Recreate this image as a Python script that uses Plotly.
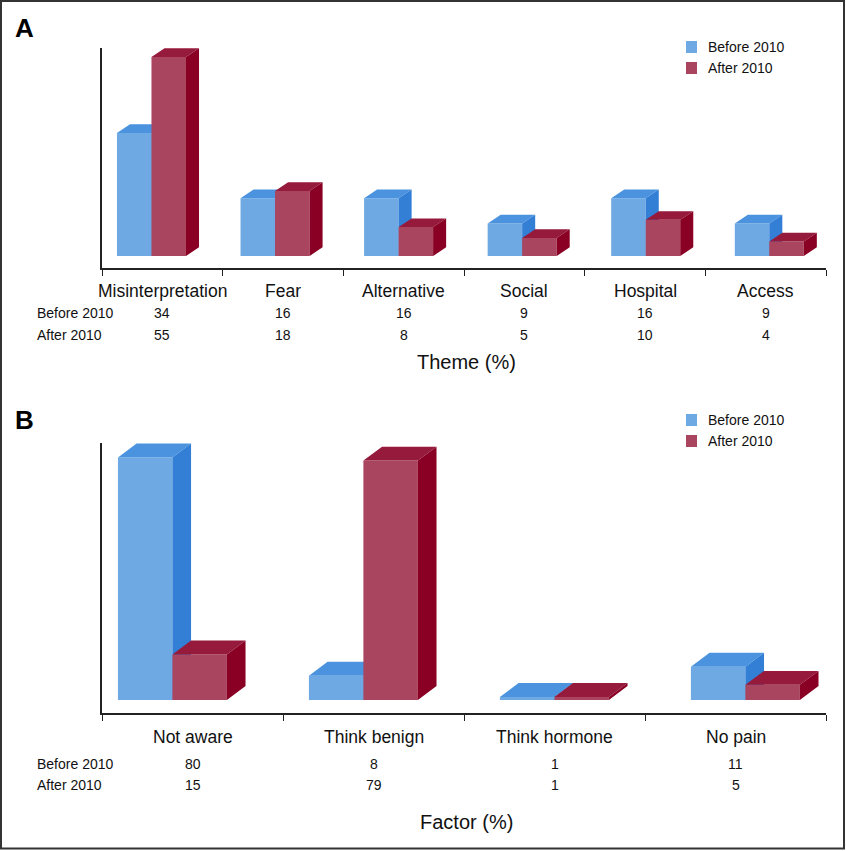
import plotly.graph_objects as go

# ---------------- data ----------------
series_names = ["Before 2010", "After 2010"]

themes = ["Misinterpretation", "Fear", "Alternative", "Social", "Hospital", "Access"]
theme_before = [34, 16, 16, 9, 16, 9]
theme_after = [55, 18, 8, 5, 10, 4]

factors = ["Not aware", "Think benign", "Think hormone", "No pain"]
factor_before = [80, 8, 1, 11]
factor_after = [15, 79, 1, 5]

# ---------------- style ----------------
W, H = 846, 851
FONT = "Liberation Sans, Arial, Helvetica, sans-serif"
BLUE = dict(front="#6FA9E3", top="#4B93DE", side="#337FD5")
RED = dict(front="#A9455F", top="#951A3C", side="#890024")
AXC = "#222222"


def py2paper(py):
    return 1 - py / H


fig = go.Figure()


def add_bars(xa, ya, values, offset, drift, width, dx, dy, col, name):
    faces = {"front": ([], []), "top": ([], []), "side": ([], [])}
    for i, v in enumerate(values):
        x0 = i + offset + drift * i
        x1 = x0 + width
        fx, fy = faces["front"]
        fx += [x0, x1, x1, x0, x0, None]
        fy += [0, 0, v, v, 0, None]
        tx, ty = faces["top"]
        tx += [x0, x1, x1 + dx, x0 + dx, x0, None]
        ty += [v, v, v + dy, v + dy, v, None]
        sx, sy = faces["side"]
        sx += [x1, x1 + dx, x1 + dx, x1, x1, None]
        sy += [0, dy, v + dy, v, 0, None]
    for face in ["front", "top", "side"]:
        xs, ys = faces[face]
        fig.add_trace(go.Scatter(
            x=xs, y=ys, xaxis=xa, yaxis=ya, mode="lines", fill="toself",
            fillcolor=col[face], line=dict(width=0, color=col[face]),
            hoverinfo="skip", showlegend=False, name=name))


def ann(x, py, text, size, xref="paper", xanchor="center", color="#111"):
    fig.add_annotation(x=x, y=py2paper(py), xref=xref, yref="paper",
                       text=text, showarrow=False, xanchor=xanchor,
                       yanchor="middle", font=dict(size=size, color=color))


def panel(xa, ya, cats, before, after, offset, drift, width, dx, dy,
          px_lab, px_row1, px_row2, px_title, title, px_leg1, px_leg2,
          letter, px_letter):
    add_bars(xa, ya, before, offset, drift, width, dx, dy, BLUE, series_names[0])
    add_bars(xa, ya, after, offset + width, drift, width, dx, dy, RED, series_names[1])
    for i, c in enumerate(cats):
        ann(i, px_lab, c, 17.5, xref=xa)
        ann(i, px_row1, str(before[i]), 14, xref=xa)
        ann(i, px_row2, str(after[i]), 14, xref=xa)
    for name, py in zip(series_names, [px_row1, px_row2]):
        ann(35 / W, py, name, 14, xanchor="left")
    ann(467 / W, px_title, title, 20)
    ann(13 / W, px_letter, "<b>%s</b>" % letter, 26, xanchor="left", color="#000")
    for name, py, col in zip(series_names, [px_leg1, px_leg2], [BLUE, RED]):
        fig.add_shape(type="rect", xref="paper", yref="paper",
                      x0=686 / W, x1=697 / W, y0=py2paper(py + 6), y1=py2paper(py - 6),
                      fillcolor=col["front"], line=dict(width=0))
        ann(706 / W, py, name, 14, xanchor="left")


# Panel A
panel("x", "y", themes, theme_before, theme_after,
      offset=-0.376, drift=0.024, width=0.286, dx=0.108, dy=2.4,
      px_lab=291, px_row1=313, px_row2=335, px_title=362, title="Theme (%)",
      px_leg1=47, px_leg2=68, letter="A", px_letter=28)
# Panel B
panel("x2", "y2", factors, factor_before, factor_after,
      offset=-0.412, drift=0.0552, width=0.301, dx=0.103, dy=4.6,
      px_lab=737, px_row1=764, px_row2=785, px_title=822, title="Factor (%)",
      px_leg1=420, px_leg2=441, letter="B", px_letter=420)

xcommon = dict(showline=True, linecolor=AXC, linewidth=1.5, ticks="outside",
               ticklen=6, tickcolor=AXC, tickwidth=1, showgrid=False,
               zeroline=False, domain=[102 / W, 826 / W], fixedrange=True)
ycommon = dict(showline=True, linecolor=AXC, linewidth=1.5, ticks="",
               showticklabels=False, showgrid=False, zeroline=False,
               fixedrange=True)

fig.update_layout(
    width=W, height=H,
    margin=dict(l=0, r=0, t=0, b=0),
    paper_bgcolor="white", plot_bgcolor="white",
    font=dict(family=FONT, color="#111"),
    showlegend=False,
    xaxis=dict(**xcommon, anchor="y", range=[-0.5, len(themes) - 0.5],
               tickvals=[i - 0.5 for i in range(len(themes) + 1)],
               ticktext=[""] * (len(themes) + 1)),
    yaxis=dict(**ycommon, anchor="x", range=[-3.31, 57.5],
               domain=[py2paper(268), py2paper(48)]),
    xaxis2=dict(**xcommon, anchor="y2", range=[-0.5, len(factors) - 0.5],
                tickvals=[i - 0.5 for i in range(len(factors) + 1)],
                ticktext=[""] * (len(factors) + 1)),
    yaxis2=dict(**ycommon, anchor="x2", range=[-4.29, 84.8],
                domain=[py2paper(713), py2paper(443)]),
)

fig.add_shape(type="rect", xref="paper", yref="paper",
              x0=1 / W, x1=(W - 2) / W, y0=py2paper(H - 2.5), y1=py2paper(1),
              line=dict(color="#333", width=2), fillcolor="rgba(0,0,0,0)")

fig.write_html("out.html", config={"displayModeBar": False},
               post_script="document.body.style.margin='0';document.body.style.overflow='hidden';")
